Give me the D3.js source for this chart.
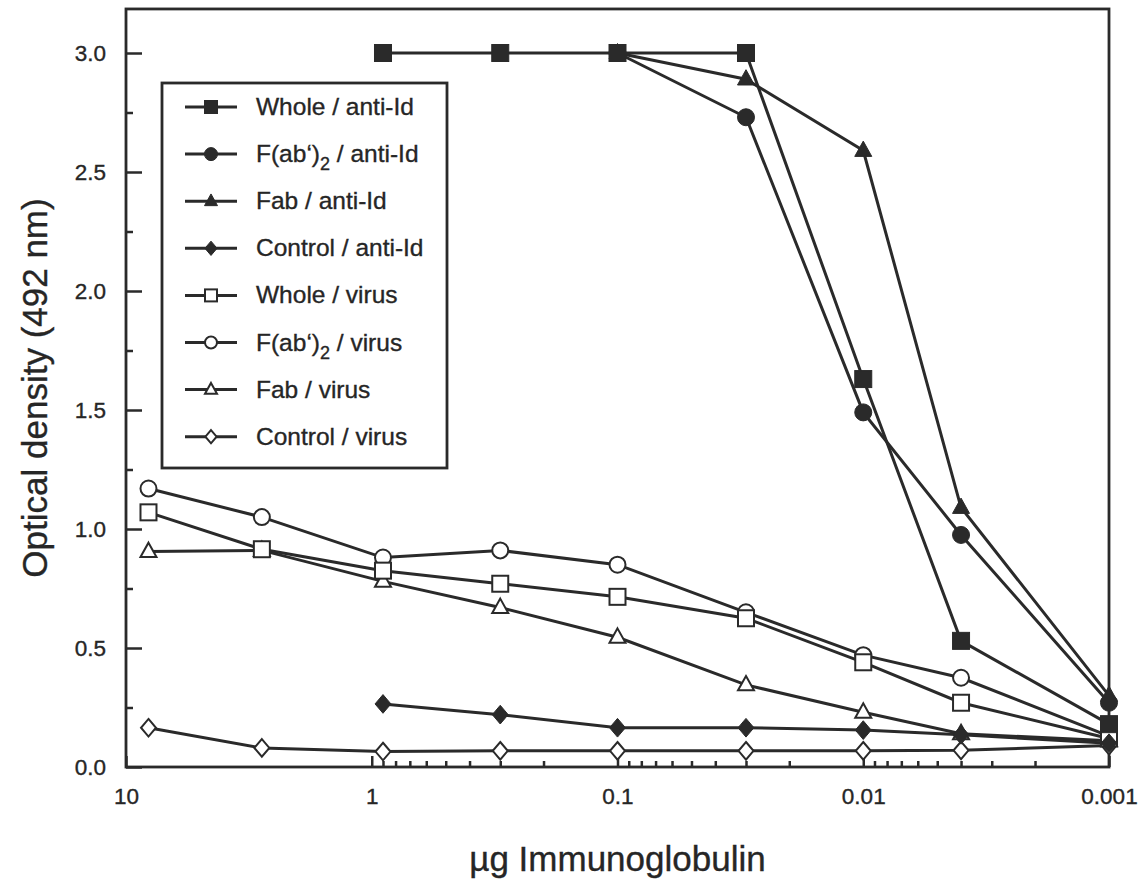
<!DOCTYPE html>
<html>
<head>
<meta charset="utf-8">
<script src="https://cdn.jsdelivr.net/npm/d3@7"></script>
<style>
  html, body { margin: 0; padding: 0; background: #fff; }
  svg { display: block; }
  text { font-family: "Liberation Sans", Arial, Helvetica, sans-serif; fill: #262626; stroke: #262626; stroke-width: 0.35px; }
</style>
</head>
<body>
<svg id="chart" width="1145" height="879"></svg>
<script>
// Antigen dose series (µg immunoglobulin per well), 3-fold dilutions
const doses = [8.1, 2.8, 0.9, 0.3, 0.1, 0.03, 0.01, 0.004, 0.001];

// Optical density readings at 492 nm (null = not measured)
const wholeAntiId   = [null, null, 3.0, 3.0, 3.0, 3.0, 1.63, 0.53, 0.18];
const fab2AntiId    = [null, null, null, null, 3.0, 2.73, 1.49, 0.975, 0.27];
const fabAntiId     = [null, null, null, null, 3.0, 2.89, 2.59, 1.09, 0.30];
const controlAntiId = [null, null, 0.265, 0.22, 0.165, 0.165, 0.155, 0.135, 0.10];
const wholeVirus    = [1.07, 0.915, 0.825, 0.77, 0.715, 0.625, 0.44, 0.27, 0.12];
const fab2Virus     = [1.17, 1.05, 0.88, 0.91, 0.85, 0.65, 0.47, 0.375, 0.13];
const fabVirus      = [0.905, 0.91, 0.78, 0.67, 0.545, 0.345, 0.23, 0.14, 0.11];
const controlVirus  = [0.165, 0.08, 0.065, 0.068, 0.068, 0.068, 0.068, 0.07, 0.09];

// Axis ticks
const xTickValues = [10, 1, 0.1, 0.01, 0.001];
const xTickLabels = ["10", "1", "0.1", "0.01", "0.001"];
const yTickValues = [0, 0.5, 1.0, 1.5, 2.0, 2.5, 3.0];
const yTickLabels = ["0.0", "0.5", "1.0", "1.5", "2.0", "2.5", "3.0"];

const seriesNames = [
  "Whole / anti-Id", "F(ab')2 / anti-Id", "Fab / anti-Id", "Control / anti-Id",
  "Whole / virus", "F(ab')2 / virus", "Fab / virus", "Control / virus"
];
const seriesValues = [
  wholeAntiId, fab2AntiId, fabAntiId, controlAntiId,
  wholeVirus, fab2Virus, fabVirus, controlVirus
];
const seriesShapes = ["square", "circle", "triangle", "diamond", "square", "circle", "triangle", "diamond"];
const seriesFilled = [true, true, true, true, false, false, false, false];

const INK = "#2a2a2a";
const svg = d3.select("#chart");

const x = d3.scaleLog().domain([10, 0.001]).range([126, 1109]);
const y = d3.scaleLinear().domain([0, 3]).range([767, 53]);
const yTop = 3.185;

// Plot frame
svg.append("rect")
  .attr("x", x(10)).attr("y", y(yTop))
  .attr("width", x(0.001) - x(10)).attr("height", y(0) - y(yTop))
  .attr("fill", "none").attr("stroke", INK).attr("stroke-width", 2.8);

// Y axis: major and minor ticks pointing inward
const yAxis = svg.append("g").attr("transform", `translate(${x(10)},0)`)
  .call(d3.axisLeft(y).tickValues(yTickValues).tickSize(-16).tickPadding(20)
    .tickFormat((d, i) => yTickLabels[i]));
const yMinor = svg.append("g").attr("transform", `translate(${x(10)},0)`)
  .call(d3.axisLeft(y).tickValues([0.25, 0.75, 1.25, 1.75, 2.25, 2.75]).tickSize(-7).tickFormat(""));

// X axis: decades plus 2..9 minor ticks
const minorX = [];
for (let e = 0; e > -3; e--) {
  for (let m = 2; m <= 9; m++) minorX.push(m * Math.pow(10, e - 1));
}
const xAxis = svg.append("g").attr("transform", `translate(0,${y(0)})`)
  .call(d3.axisBottom(x).tickValues(xTickValues).tickSize(-11).tickPadding(21)
    .tickFormat((d, i) => xTickLabels[i]));
const xMinor = svg.append("g").attr("transform", `translate(0,${y(0)})`)
  .call(d3.axisBottom(x).tickValues(minorX).tickSize(-6).tickFormat(""));

[yAxis, yMinor, xAxis, xMinor].forEach(g => {
  g.select(".domain").remove();
  g.selectAll("line").attr("stroke", INK).attr("stroke-width", 2.5);
  g.selectAll("text").attr("font-size", 22.5).attr("fill", "#262626")
    .attr("font-family", '"Liberation Sans", Arial, sans-serif');
});

// Axis titles
svg.append("text")
  .attr("transform", `translate(47,${(y(0) + y(yTop)) / 2}) rotate(-90)`)
  .attr("text-anchor", "middle").attr("font-size", 35)
  .text("Optical density (492 nm)");
svg.append("text")
  .attr("x", (x(10) + x(0.001)) / 2).attr("y", 871)
  .attr("text-anchor", "middle").attr("font-size", 35)
  .text("µg Immunoglobulin");

// Marker drawing helper
function marker(g, shape, filled, cx, cy, s) {
  const fill = filled ? INK : "#fff";
  const sw = filled ? 1 : 2;
  if (shape === "square") {
    g.append("rect").attr("x", cx - s / 2).attr("y", cy - s / 2).attr("width", s).attr("height", s)
      .attr("fill", fill).attr("stroke", INK).attr("stroke-width", sw);
  } else if (shape === "circle") {
    g.append("circle").attr("cx", cx).attr("cy", cy).attr("r", s / 2)
      .attr("fill", fill).attr("stroke", INK).attr("stroke-width", sw);
  } else if (shape === "triangle") {
    const h = s * 0.9;
    g.append("path")
      .attr("d", `M${cx},${cy - h * 0.62}L${cx + s / 2},${cy + h * 0.38}L${cx - s / 2},${cy + h * 0.38}Z`)
      .attr("fill", fill).attr("stroke", INK).attr("stroke-width", sw).attr("stroke-linejoin", "miter");
  } else {
    const r = s * 0.55;
    g.append("path")
      .attr("d", `M${cx},${cy - r}L${cx + r * 0.85},${cy}L${cx},${cy + r}L${cx - r * 0.85},${cy}Z`)
      .attr("fill", fill).attr("stroke", INK).attr("stroke-width", sw);
  }
}

const line = d3.line()
  .defined(d => d.v !== null)
  .x(d => x(d.dose)).y(d => y(d.v));

// Draw series, the anti-Id whole antibody last so it sits on top
const order = [7, 6, 5, 4, 3, 2, 1, 0];
const plot = svg.append("g");
order.forEach(i => {
  const pts = doses.map((dose, j) => ({ dose, v: seriesValues[i][j] }));
  const g = plot.append("g");
  g.append("path").attr("d", line(pts))
    .attr("fill", "none").attr("stroke", INK).attr("stroke-width", 3);
  pts.filter(p => p.v !== null).forEach(p => {
    marker(g, seriesShapes[i], seriesFilled[i], x(p.dose), y(p.v), seriesFilled[i] ? 17 : 16);
  });
});

// Legend
const legend = svg.append("g");
legend.append("rect").attr("x", 162).attr("y", 83).attr("width", 285).attr("height", 385)
  .attr("fill", "#fff").attr("stroke", INK).attr("stroke-width", 2.8);
seriesNames.forEach((name, i) => {
  const ly = 107 + i * 47.1;
  legend.append("line").attr("x1", 185).attr("x2", 237).attr("y1", ly).attr("y2", ly)
    .attr("stroke", INK).attr("stroke-width", 3);
  marker(legend, seriesShapes[i], seriesFilled[i], 211, ly, seriesFilled[i] ? 13 : 12);
  const t = legend.append("text").attr("x", 256).attr("y", ly + 8).attr("font-size", 24.5);
  if (name.startsWith("F(ab')2")) {
    t.append("tspan").text("F(ab‘)");
    t.append("tspan").attr("font-size", 18).attr("dy", 8).text("2");
    t.append("tspan").attr("dy", -8).text(name.slice(7));
  } else {
    t.text(name);
  }
});
</script>
</body>
</html>
